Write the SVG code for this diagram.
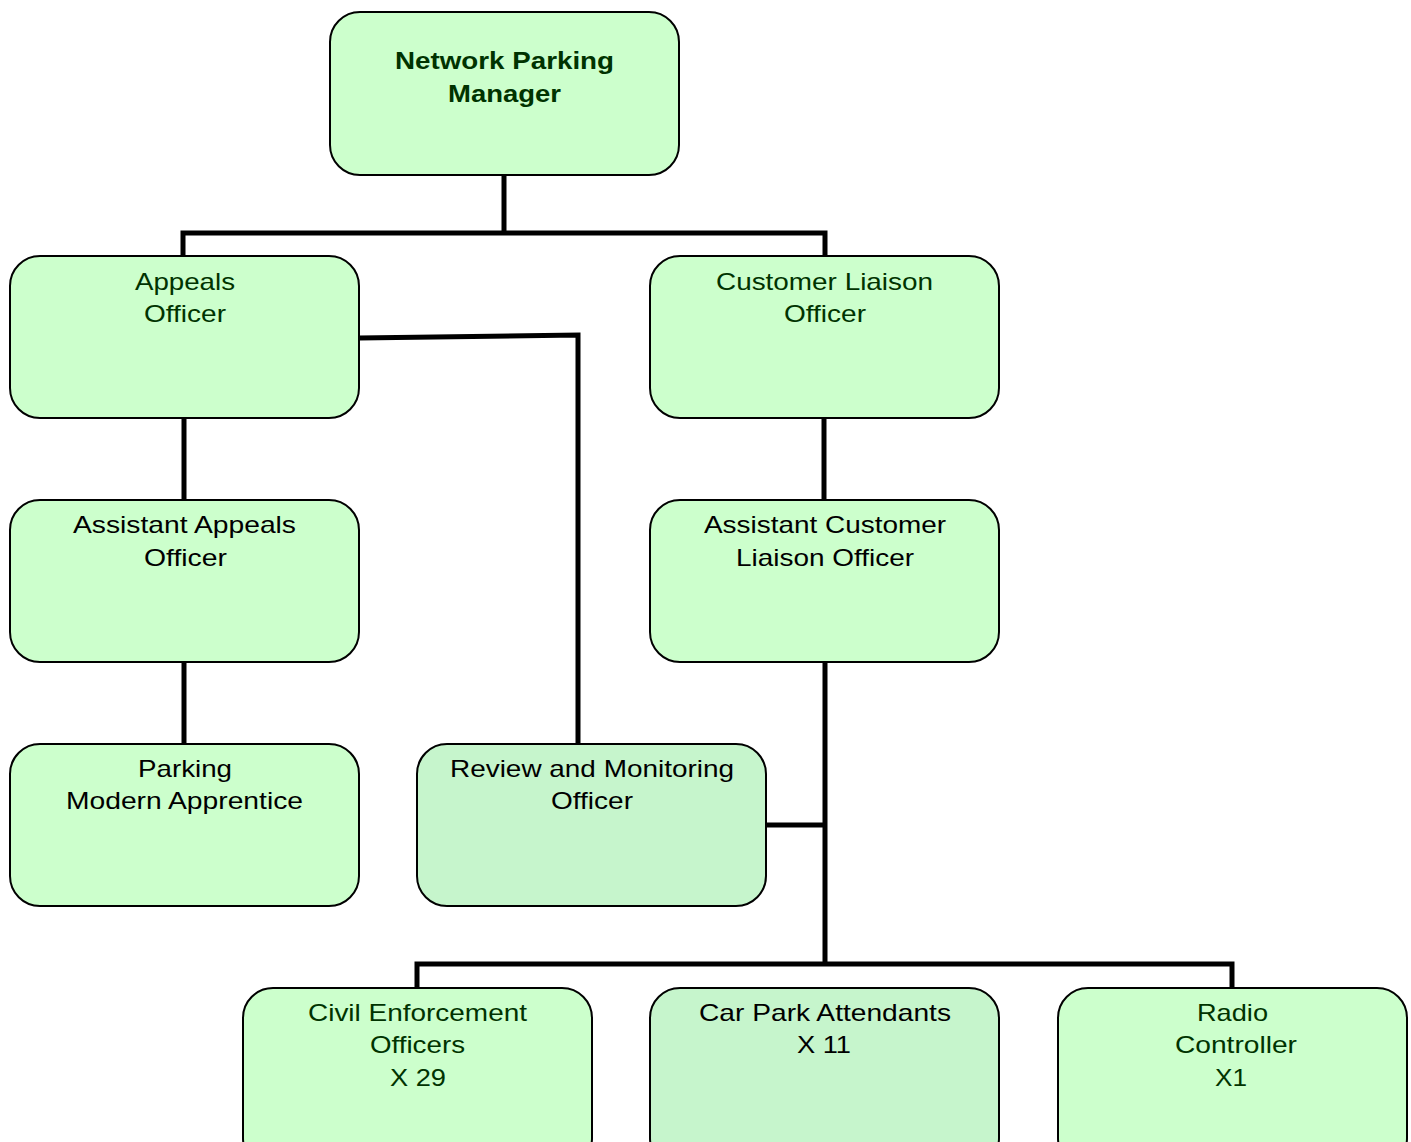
<svg xmlns="http://www.w3.org/2000/svg" width="1411" height="1142" viewBox="0 0 1411 1142">
<style>
.box{fill:#CCFFCC;stroke:#000;stroke-width:2}
.box2{fill:#C6F5CC;stroke:#000;stroke-width:2}
.t{font-family:"Liberation Sans",Arial,sans-serif;font-size:24px;text-anchor:middle}
.g{fill:#003300}
.k{fill:#000}
.b{font-weight:bold}
.c{fill:none;stroke:#000;stroke-width:5}
</style>
<rect width="1411" height="1142" fill="#fff"/>
<g id="connectors">
<path class="c" d="M504,175 V233 M183,256 V233 H825 V256"/>
<path class="c" d="M184,418 V500 M184,662 V744"/>
<path class="c" d="M359,338 L578,335 V744"/>
<path class="c" d="M824,418 V500"/>
<path class="c" d="M825,662 V964 M766,825 H825 M417,988 V964 H1232 V988"/>
</g>
<g id="network-parking-manager">
<rect class="box" x="330" y="12" width="349" height="163" rx="30"/>
<text class="t g b" x="504.5" y="69" textLength="219" lengthAdjust="spacingAndGlyphs">Network Parking</text>
<text class="t g b" x="504.5" y="102" textLength="113" lengthAdjust="spacingAndGlyphs">Manager</text>
</g>
<g id="appeals-officer">
<rect class="box" x="10" y="256" width="349" height="162" rx="30"/>
<text class="t g" x="185" y="290" textLength="100" lengthAdjust="spacingAndGlyphs">Appeals</text>
<text class="t g" x="185" y="322" textLength="82" lengthAdjust="spacingAndGlyphs">Officer</text>
</g>
<g id="customer-liaison-officer">
<rect class="box" x="650" y="256" width="349" height="162" rx="30"/>
<text class="t g" x="824.5" y="290" textLength="217" lengthAdjust="spacingAndGlyphs">Customer Liaison</text>
<text class="t g" x="825" y="322" textLength="82" lengthAdjust="spacingAndGlyphs">Officer</text>
</g>
<g id="assistant-appeals-officer">
<rect class="box" x="10" y="500" width="349" height="162" rx="30"/>
<text class="t k" x="184.5" y="533" textLength="223" lengthAdjust="spacingAndGlyphs">Assistant Appeals</text>
<text class="t k" x="185.5" y="566" textLength="83" lengthAdjust="spacingAndGlyphs">Officer</text>
</g>
<g id="assistant-customer-liaison-officer">
<rect class="box" x="650" y="500" width="349" height="162" rx="30"/>
<text class="t k" x="825" y="533" textLength="242" lengthAdjust="spacingAndGlyphs">Assistant Customer</text>
<text class="t k" x="825" y="566" textLength="178" lengthAdjust="spacingAndGlyphs">Liaison Officer</text>
</g>
<g id="parking-modern-apprentice">
<rect class="box" x="10" y="744" width="349" height="162" rx="30"/>
<text class="t k" x="185" y="777" textLength="94" lengthAdjust="spacingAndGlyphs">Parking</text>
<text class="t k" x="184.5" y="809" textLength="237" lengthAdjust="spacingAndGlyphs">Modern Apprentice</text>
</g>
<g id="review-monitoring-officer">
<rect class="box2" x="417" y="744" width="349" height="162" rx="30"/>
<text class="t k" x="592" y="777" textLength="284" lengthAdjust="spacingAndGlyphs">Review and Monitoring</text>
<text class="t k" x="592" y="809" textLength="82" lengthAdjust="spacingAndGlyphs">Officer</text>
</g>
<g id="civil-enforcement-officers">
<rect class="box" x="243" y="988" width="349" height="180" rx="30"/>
<text class="t g" x="417.5" y="1021" textLength="219" lengthAdjust="spacingAndGlyphs">Civil Enforcement</text>
<text class="t g" x="417.5" y="1053" textLength="95" lengthAdjust="spacingAndGlyphs">Officers</text>
<text class="t g" x="418" y="1086" textLength="56" lengthAdjust="spacingAndGlyphs">X 29</text>
</g>
<g id="car-park-attendants">
<rect class="box2" x="650" y="988" width="349" height="180" rx="30"/>
<text class="t k" x="825" y="1021" textLength="252" lengthAdjust="spacingAndGlyphs">Car Park Attendants</text>
<text class="t k" x="824" y="1053" textLength="54" lengthAdjust="spacingAndGlyphs">X 11</text>
</g>
<g id="radio-controller">
<rect class="box" x="1058" y="988" width="349" height="180" rx="30"/>
<text class="t g" x="1232.5" y="1021" textLength="71" lengthAdjust="spacingAndGlyphs">Radio</text>
<text class="t g" x="1236" y="1053" textLength="122" lengthAdjust="spacingAndGlyphs">Controller</text>
<text class="t g" x="1231" y="1086" textLength="32" lengthAdjust="spacingAndGlyphs">X1</text>
</g>
</svg>
